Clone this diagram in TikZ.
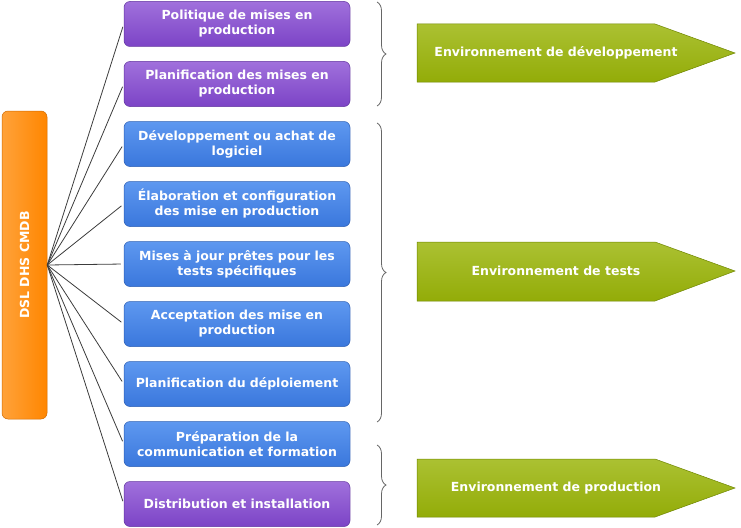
\documentclass[tikz,border=0pt]{standalone}
\usepackage{fontspec}
\setmainfont{DejaVu Sans}
\usepackage{tikz}
\usetikzlibrary{positioning,calc,decorations.pathreplacing}

\definecolor{purpletop}{HTML}{A070DC}
\definecolor{purplebot}{HTML}{7C44C6}
\definecolor{purpleedge}{HTML}{6234A0}
\definecolor{bluetop}{HTML}{5E98F0}
\definecolor{bluebot}{HTML}{3A77DC}
\definecolor{blueedge}{HTML}{2C5EB4}
\definecolor{orangetop}{HTML}{FFA23A}
\definecolor{orangebot}{HTML}{FF8600}
\definecolor{orangeedge}{HTML}{D06A00}
\definecolor{greentop}{HTML}{ABC132}
\definecolor{greenbot}{HTML}{93AC08}
\definecolor{greenedge}{HTML}{6F8600}
\definecolor{linegray}{HTML}{3C3C3C}

\tikzset{
    stepbox/.style={rectangle, rounded corners=6pt, minimum width=226pt, minimum height=45pt,
        text width=224pt, align=center, text=white, inner sep=1pt,
        font=\fontsize{12.5}{15}\selectfont\bfseries},
    purplebox/.style={stepbox, top color=purpletop, bottom color=purplebot, draw=purpleedge, line width=0.5pt},
    bluebox/.style={stepbox, top color=bluetop, bottom color=bluebot, draw=blueedge, line width=0.5pt},
    envarrow/.style={top color=greentop, bottom color=greenbot, draw=greenedge, line width=0.5pt},
    envtext/.style={text=white, font=\fontsize{12.5}{15}\selectfont\bfseries},
    link/.style={draw=linegray, line width=0.8pt, shorten >=3pt},
    grpbrace/.style={draw=gray!80!black, line width=0.8pt, decorate, decoration={brace, amplitude=9pt}}
}

\begin{document}
\begin{tikzpicture}[x=1pt, y=-1pt, node distance=60pt]
    \useasboundingbox (0,0) rectangle (741,527);

    % source box
    \node (cmdb) [rectangle, rounded corners=6pt, minimum width=45pt, minimum height=308pt,
        left color=orangetop, right color=orangebot, draw=orangeedge, line width=0.5pt,
        text=white, font=\fontsize{12.5}{15}\selectfont\bfseries] at (24.5,265) {\rotatebox{90}{DSL DHS CMDB}};

    % process steps
    \node (pol) [purplebox] at (237,24) {Politique de mises en\\production};
    \node (plan) [purplebox, below of=pol] {Planification des mises en\\production};
    \node (dev) [bluebox, below of=plan] {Développement ou achat de\\logiciel};
    \node (elab) [bluebox, below of=dev] {Élaboration et configuration\\des mise en production};
    \node (maj) [bluebox, below of=elab] {Mises à jour prêtes pour les\\tests spécifiques};
    \node (acc) [bluebox, below of=maj] {Acceptation des mise en\\production};
    \node (depl) [bluebox, below of=acc] {Planification du déploiement};
    \node (prep) [bluebox, below of=depl] {Préparation de la\\communication et formation};
    \node (dist) [purplebox, below of=prep] {Distribution et installation};

    \foreach \b in {pol,plan,dev,elab,maj,acc,depl,prep,dist}
        \draw[link] (cmdb.east) -- (\b.west);

    % braces
    \draw[grpbrace] (377,2) -- (377,106);
    \draw[grpbrace] (377,123) -- (377,422);
    \draw[grpbrace] (377,445) -- (377,525);

    % environments
    \path[envarrow] (417,24) -- (655,24) -- (735,53) -- (655,82) -- (417,82) -- cycle;
    \node (envdev) [envtext] at (556,53) {Environnement de développement};
    \path[envarrow] (417,242) -- (655,242) -- (735,271) -- (655,301) -- (417,301) -- cycle;
    \node (envtest) [envtext] at (556,271) {Environnement de tests};
    \path[envarrow] (417,459) -- (655,459) -- (735,488) -- (655,517) -- (417,517) -- cycle;
    \node (envprod) [envtext] at (556,488) {Environnement de production};
\end{tikzpicture}
\end{document}
